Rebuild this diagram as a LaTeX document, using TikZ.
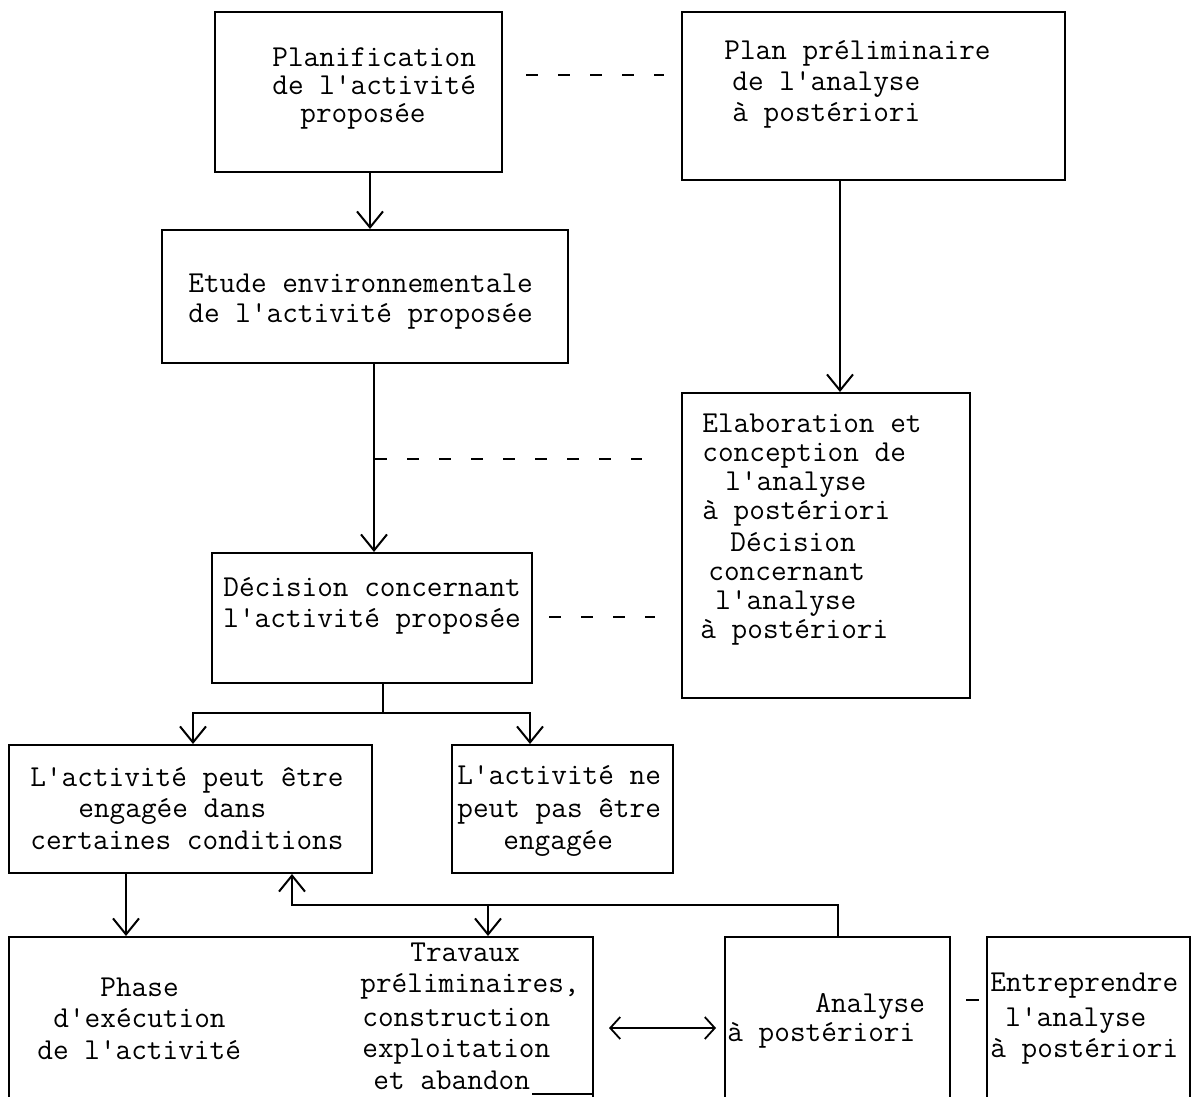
\documentclass[tikz,border=0pt]{standalone}
\usetikzlibrary{arrows.meta,fit}
\begin{document}
\begin{tikzpicture}[x=0.5pt,y=-0.5pt,
  box/.style={draw, line width=1pt, inner sep=0pt},
  txt/.style={anchor=mid west, inner sep=0pt, font=\ttfamily\fontsize{15.2}{15}\selectfont},
  conn/.style={line width=1pt},
  arr/.style={line width=1pt, -{Straight Barb[length=8pt,width=13pt,line width=1pt]}},
  darr/.style={line width=0.8pt, {Straight Barb[length=5pt,width=11pt,line width=0.9pt]}-{Straight Barb[length=5pt,width=11pt,line width=0.9pt]}},
  dsh/.style={line width=1.2pt, dash pattern=on 6pt off 10pt}]
\useasboundingbox (0,0) rectangle (1197,1096);
\fill[white] (0,0) rectangle (1197,1096);

% boxes
\node[box, fit={(215,12) (502,172)}] (b1) {};
\node[box, fit={(682,12) (1065,180)}] (b2) {};
\node[box, fit={(162,230) (568,363)}] (etude) {};
\node[box, fit={(682,393) (970,698)}] (elab) {};
\node[box, fit={(212,553) (532,683)}] (dec) {};
\node[box, fit={(9,745) (372,873)}] (A) {};
\node[box, fit={(452,745) (673,873)}] (B) {};
\node[box, fit={(9,937) (593,1099)}] (big) {};
\node[box, fit={(725,937) (950,1099)}] (an) {};
\node[box, fit={(987,937) (1190,1099)}] (ent) {};

% texts
\node[txt] (t11) at (272,62) {Planification};
\node[txt] (t12) at (272,90) {de l'activité};
\node[txt] (t13) at (300,118) {proposée};

\node[txt] (t21) at (724,55) {Plan préliminaire};
\node[txt] (t22) at (732,86) {de l'analyse};
\node[txt] (t23) at (732,117) {à postériori};

\node[txt] (t31) at (188,288) {Etude environnementale};
\node[txt] (t32) at (188,318) {de l'activité proposée};

\node[txt] (t41) at (702,428) {Elaboration et};
\node[txt] (t42) at (702,457) {conception de};
\node[txt] (t43) at (725,486) {l'analyse};
\node[txt] (t44) at (702,515) {à postériori};
\node[txt] (t45) at (730,547) {Décision};
\node[txt] (t46) at (708,576) {concernant};
\node[txt] (t47) at (715,605) {l'analyse};
\node[txt] (t48) at (700,634) {à postériori};

\node[txt] (t51) at (223,592) {Décision concernant};
\node[txt] (t52) at (223,623) {l'activité proposée};

\node[txt] (t61) at (30,782) {L'activité peut être};
\node[txt] (t62) at (78,813) {engagée dans};
\node[txt] (t63) at (30,845) {certaines conditions};

\node[txt] (t71) at (457,780) {L'activité ne};
\node[txt] (t72) at (457,813) {peut pas être};
\node[txt] (t73) at (503,845) {engagée};

\node[txt] (t81) at (100,992) {Phase};
\node[txt] (t82) at (53,1023) {d'exécution};
\node[txt] (t83) at (37,1055) {de l'activité};

\node[txt] (t91) at (410,957) {Travaux};
\node[txt] (t92) at (360,988) {préliminaires,};
\node[txt] (t93) at (362,1022) {construction};
\node[txt] (t94) at (362,1053) {exploitation};
\node[txt] (t95) at (373,1085) {et abandon};

\node[txt] (ta1) at (815,1008) {Analyse};
\node[txt] (ta2) at (727,1037) {à postériori};

\node[txt] (tb1) at (990,987) {Entreprendre};
\node[txt] (tb2) at (1005,1022) {l'analyse};
\node[txt] (tb3) at (990,1053) {à postériori};

% connectors
\coordinate (x370) at (370,0);
\draw[arr] (b1.south -| x370) -- (etude.north -| x370);
\coordinate (x840) at (840,0);
\draw[arr] (b2.south -| x840) -- (elab.north -| x840);
\coordinate (y75) at (0,75);
\draw[dsh, shorten <=11.5pt, shorten >=8.5pt] (b1.east |- y75) -- (b2.west |- y75);

\coordinate (x374) at (374,0);
\draw[arr] (etude.south -| x374) -- (dec.north -| x374);
\coordinate (d2) at (375,459);
\draw[dsh, shorten >=19.5pt] (d2) -- (elab.west |- d2);
\coordinate (y617) at (0,617);
\draw[dsh, shorten <=8pt, shorten >=13pt] (dec.east |- y617) -- (elab.west |- y617);

\coordinate (j) at (383,713);
\coordinate (xa) at (193,0);
\coordinate (xb) at (530,0);
\draw[conn] (dec.south -| j) -- (j);
\draw[arr] (j) -| (A.north -| xa);
\draw[arr] (j) -| (B.north -| xb);

\coordinate (x126) at (126,0);
\draw[arr] (A.south -| x126) -- (big.north -| x126);
\coordinate (f1) at (838,905);
\coordinate (f2) at (292,905);
\coordinate (f3) at (488,905);
\draw[arr] (an.north -| f1) -- (f1) -- (f2) -- (A.south -| f2);
\draw[arr] (f3) -- (big.north -| f3);

\coordinate (y1028) at (0,1028);
\draw[darr, shorten <=7.5pt, shorten >=4pt] (big.east |- y1028) -- (an.west |- y1028);
\coordinate (y1000) at (0,1000);
\draw[line width=1.3pt, shorten <=7.5pt, shorten >=3.5pt] (an.east |- y1000) -- (ent.west |- y1000);

% visible piece of the bottom edge under "et abandon"
\coordinate (bb) at (532,1094);
\draw[line width=0.8pt] (bb) -- (big.east |- bb);
\end{tikzpicture}
\end{document}
